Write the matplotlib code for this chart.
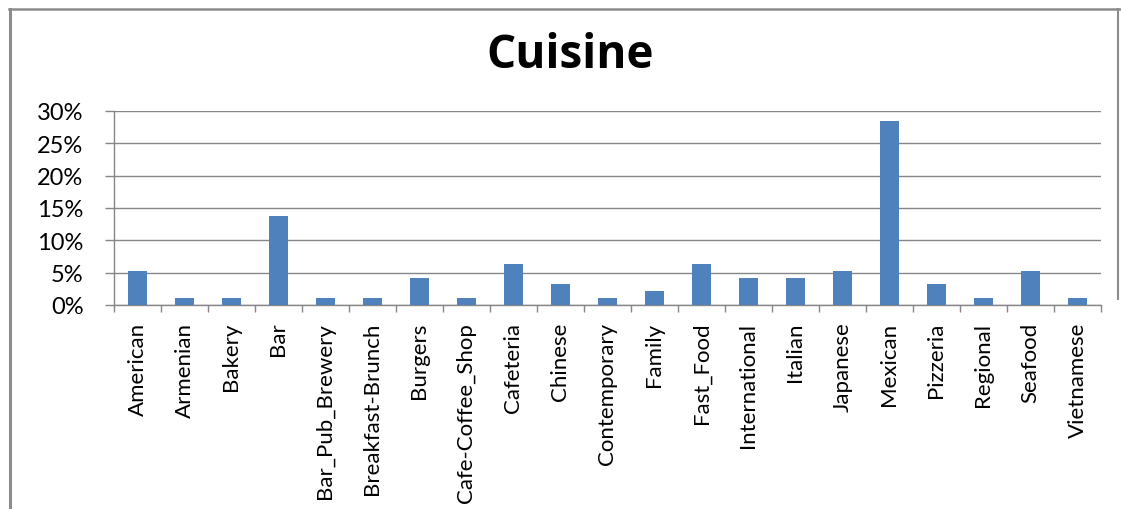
import matplotlib
matplotlib.use("Agg")
import matplotlib.pyplot as plt
from matplotlib.lines import Line2D
from matplotlib.ticker import FixedLocator, PercentFormatter

categories = ["American", "Armenian", "Bakery", "Bar", "Bar_Pub_Brewery",
              "Breakfast-Brunch", "Burgers", "Cafe-Coffee_Shop", "Cafeteria",
              "Chinese", "Contemporary", "Family", "Fast_Food", "International",
              "Italian", "Japanese", "Mexican", "Pizzeria", "Regional",
              "Seafood", "Vietnamese"]
share_pct = [5.3, 1.1, 1.1, 13.7, 1.1, 1.1, 4.2, 1.1, 6.3, 3.2, 1.1, 2.1,
             6.3, 4.2, 4.2, 5.3, 28.4, 3.2, 1.1, 5.3, 1.1]
y_ticks = [0, 5, 10, 15, 20, 25, 30]

BAR_COLOR  = "#4F81BD"
GRID_COLOR = "#868686"
FRAME      = "#8c8c8c"
FONT       = "Lato"

W, H = 1121, 510
fig = plt.figure(figsize=(W / 100, H / 100), dpi=100)
fig.patch.set_facecolor("white")

# chart frame: left + top edges, short right edge (the rest is cropped off)
def fx(px): return px / W
def fy(py): return 1 - py / H
fig.lines.append(Line2D([fx(9.5), fx(9.5)], [fy(10), 0], transform=fig.transFigure,
                        color=FRAME, lw=2.2))
fig.lines.append(Line2D([fx(8.5), 1], [fy(10), fy(10)], transform=fig.transFigure,
                        color=FRAME, lw=1.8))
fig.lines.append(Line2D([fx(1118), fx(1118)], [fy(10), fy(300)], transform=fig.transFigure,
                        color=FRAME, lw=1.5))

ax = fig.add_axes([fx(114), fy(306), (1101 - 114) / W, (306 - 112) / H])
x = range(len(categories))
ax.bar(x, share_pct, width=0.4, color=BAR_COLOR, zorder=3)

ax.set_xlim(-0.5, len(categories) - 0.5)
ax.set_ylim(0, 30)
ax.yaxis.set_major_locator(FixedLocator(y_ticks))
ax.yaxis.set_major_formatter(PercentFormatter(decimals=0))
ax.grid(axis="y", color=GRID_COLOR, lw=1.0, zorder=0)

ax.set_xticks(list(x))
ax.set_xticklabels(categories, rotation=90, fontsize=16, family=FONT)
ax.tick_params(axis="x", which="major", length=0, pad=12)
ax.set_xticks([i - 0.5 for i in range(len(categories) + 1)], minor=True)
ax.tick_params(axis="x", which="minor", length=5, color=GRID_COLOR, width=1.0)
ax.tick_params(axis="y", length=6.5, color=GRID_COLOR, width=1.0, pad=15.5)
for lbl in ax.get_yticklabels():
    lbl.set_fontsize(17)
    lbl.set_family(FONT)

for side in ("top", "right"):
    ax.spines[side].set_visible(False)
for side in ("left", "bottom"):
    ax.spines[side].set_color(GRID_COLOR)
    ax.spines[side].set_linewidth(1.0)

fig.text(570 / W, fy(56), "Cuisine", ha="center", va="center",
         fontsize=33, fontweight="bold", family="Open Sans")

fig.savefig("out.png", dpi=100)
